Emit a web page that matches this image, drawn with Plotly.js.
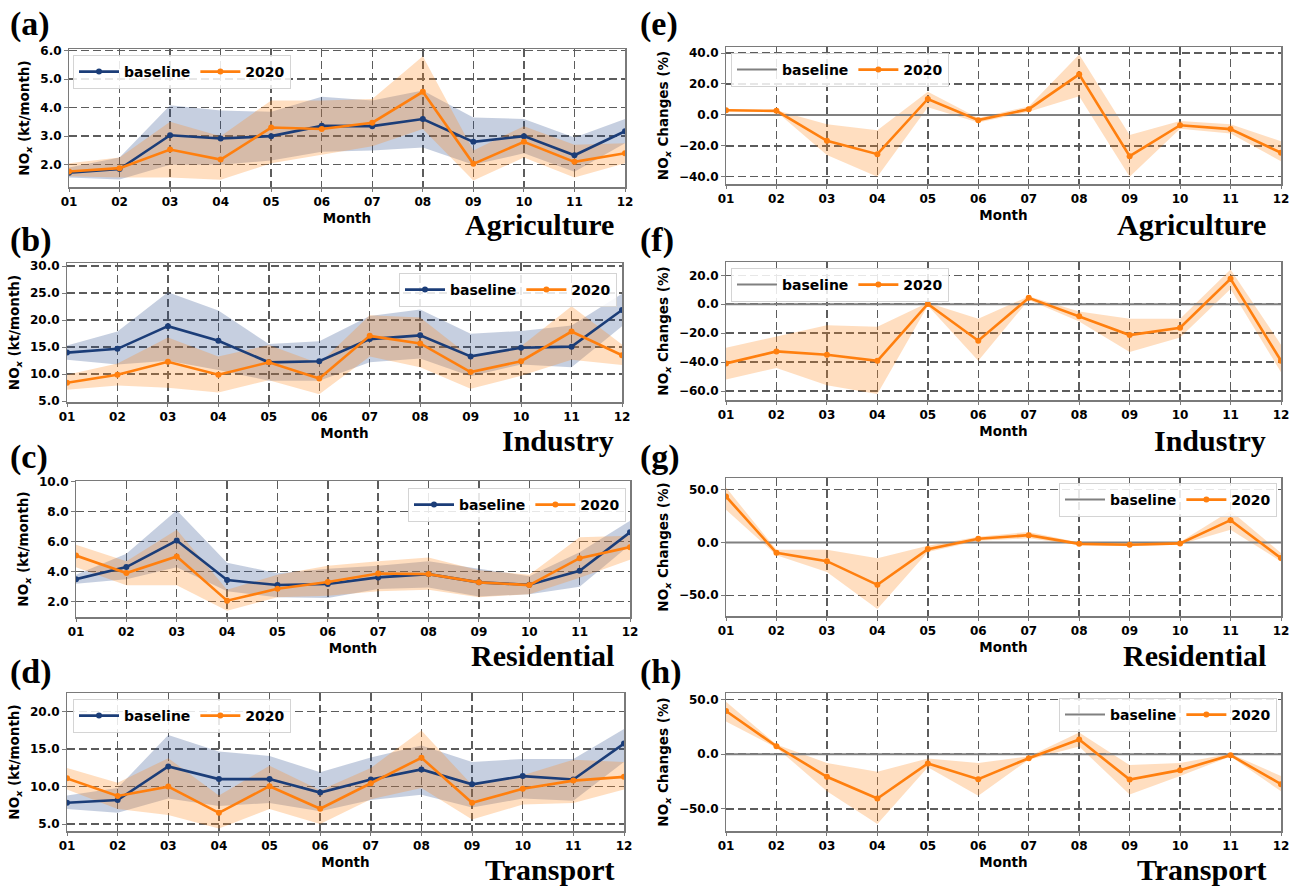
<!DOCTYPE html>
<html><head><meta charset="utf-8">
<script src="https://cdn.plot.ly/plotly-3.0.1.min.js"></script>
<style>html,body{margin:0;padding:0;background:#fff}#chart{width:1301px;height:889px}</style>
</head><body><div id="chart"></div>
<script>
// ---------------- DATA ----------------
const months = ['01','02','03','04','05','06','07','08','09','10','11','12'];
const seriesNames = ['baseline','2020'];
const panelLabels = ['(a)','(b)','(c)','(d)','(e)','(f)','(g)','(h)'];
const sectors = ['Agriculture','Industry','Residential','Transport'];
const yTitleAbs = 'NO<sub><i>x</i></sub> (kt/month)';
const yTitleChg = 'NO<sub><i>x</i></sub> Changes (%)';
const xTitle = 'Month';

// Agriculture (kt/month)
const agriBase   = [1.72,1.85,3.03,2.92,3.00,3.36,3.35,3.60,2.80,3.00,2.33,3.17];
const agriBaseHi = [1.90,2.25,4.08,3.90,3.85,4.38,4.25,4.60,3.65,3.60,2.95,3.60];
const agriBaseLo = [1.55,1.48,2.00,2.00,2.15,2.45,2.50,2.60,2.00,2.40,1.75,2.75];
const agri2020   = [1.76,1.88,2.53,2.18,3.30,3.25,3.47,4.55,2.03,2.80,2.10,2.40];
const agri2020Hi = [2.05,2.25,3.50,3.00,4.25,4.25,4.30,5.80,2.50,3.35,2.70,2.75];
const agri2020Lo = [1.60,1.55,1.55,1.47,2.05,2.35,2.65,3.25,1.45,2.25,1.55,2.05];
// Industry
const indBase   = [14.0,14.7,18.9,16.2,12.2,12.4,16.5,17.2,13.3,14.9,15.1,21.9];
const indBaseHi = [15.3,17.9,25.2,21.8,15.6,16.1,20.8,22.0,17.5,18.0,19.0,24.9];
const indBaseLo = [12.7,11.8,12.5,10.8,8.8,8.8,12.2,12.9,9.6,11.8,11.3,18.9];
const ind2020   = [8.4,9.9,12.3,9.9,12.2,9.2,17.1,15.7,10.4,12.4,17.9,13.5];
const ind2020Hi = [9.9,12.0,16.8,13.3,15.4,12.0,20.9,20.5,13.2,15.2,22.6,15.5];
const ind2020Lo = [7.1,7.9,7.5,6.6,8.9,6.3,13.3,11.3,7.3,9.7,12.7,11.7];
// Residential
const resBase   = [3.50,4.31,6.08,3.44,3.11,3.18,3.62,3.84,3.29,3.13,4.06,6.63];
const resBaseHi = [3.80,5.20,8.10,4.60,3.90,4.20,4.40,4.70,4.20,3.70,5.30,7.40];
const resBaseLo = [3.20,3.50,4.30,2.70,2.30,2.25,2.85,2.95,2.35,2.50,3.00,5.80];
const res2020   = [5.08,3.91,5.02,2.07,2.86,3.31,3.88,3.84,3.29,3.11,4.90,5.64];
const res2020Hi = [5.80,4.70,6.80,2.80,3.80,4.40,4.70,4.95,4.10,3.80,6.30,6.40];
const res2020Lo = [4.30,3.10,3.10,1.40,2.30,2.40,2.70,2.80,2.30,2.50,3.60,4.80];
// Transport
const traBase   = [7.85,8.20,12.70,11.00,11.00,9.20,10.95,12.30,10.30,11.40,10.95,15.75];
const traBaseHi = [8.8,9.8,16.9,14.7,14.1,11.9,13.9,15.5,13.3,13.7,13.7,17.7];
const traBaseLo = [7.0,6.5,8.4,7.4,7.8,6.7,8.2,8.9,7.2,8.4,8.1,13.3];
const tra2020   = [11.10,8.75,10.00,6.50,10.05,7.05,10.45,13.85,7.85,9.70,10.80,11.30];
const tra2020Hi = [12.5,10.5,13.8,8.8,12.8,9.5,12.5,17.5,10.2,11.5,13.6,13.3];
const tra2020Lo = [9.6,7.0,6.2,4.4,7.0,5.0,8.3,9.8,5.6,7.6,7.8,9.6];

// NOx changes (%)
const baselineChg = [0,0,0,0,0,0,0,0,0,0,0,0];
const agriChg   = [3.0,2.6,-16.8,-25.4,10.3,-3.4,3.7,26.2,-26.7,-6.7,-9.2,-24.5];
const agriChgHi = [3.5,3.0,-6,-10,15,-2,5.5,39,-13,-4,-6,-17];
const agriChgLo = [2.5,2.0,-26,-40,5,-5,2,12,-40,-9,-12,-30];
const indChg    = [-40.9,-32.6,-34.9,-39.1,0.2,-25.2,4.4,-8.3,-21.3,-16.2,17.6,-39.1];
const indChgHi  = [-30,-22,-14.5,-15.5,1,-10,5.5,-5,-10,-10,24,-28];
const indChgLo  = [-52,-44,-56,-62,-1,-39,3,-12,-33,-23,10.5,-47];
const resChg    = [43.5,-9.8,-17.7,-40.1,-6.3,3.5,6.9,-1.3,-2.2,-0.9,21.1,-14.8];
const resChgHi  = [52,-7,-7,-15,-3,5.5,10,0,-1,0.5,30,-10];
const resChgLo  = [31,-12,-28,-63,-9,1.5,4,-2.5,-3.5,-2,12,-18];
const traChg    = [39.6,7.3,-20.7,-40.6,-8.5,-22.9,-3.7,13.4,-23.2,-14.6,-0.9,-27.5];
const traChgHi  = [48,9,-8,-16,-4,-8,-2,20,-10,-8,0.5,-20];
const traChgLo  = [30,6,-34,-64,-12,-38,-5,7,-37,-20,-2,-34];

// ---------------- STYLE / LAYOUT ----------------
const W = 1301, H = 889;
const NAVY = '#1b3d78', ORANGE = '#ff7f0e', GRAYLINE = '#808080';
const FILL_NAVY = 'rgba(35,70,135,0.26)', FILL_OR = 'rgba(255,135,30,0.28)';
const TICKFONT = {family:'DejaVu Sans', size:12, color:'#000', weight:'bold'};
const TITLEFONT = {family:'DejaVu Sans', size:13.5, color:'#000', weight:'bold'};
const GRIDC = '#5c5c5c';

const absPanels = [
  {base:agriBase, baseHi:agriBaseHi, baseLo:agriBaseLo, y:agri2020, hi:agri2020Hi, lo:agri2020Lo},
  {base:indBase,  baseHi:indBaseHi,  baseLo:indBaseLo,  y:ind2020,  hi:ind2020Hi,  lo:ind2020Lo},
  {base:resBase,  baseHi:resBaseHi,  baseLo:resBaseLo,  y:res2020,  hi:res2020Hi,  lo:res2020Lo},
  {base:traBase,  baseHi:traBaseHi,  baseLo:traBaseLo,  y:tra2020,  hi:tra2020Hi,  lo:tra2020Lo}
];
const chgPanels = [
  {y:agriChg, hi:agriChgHi, lo:agriChgLo},
  {y:indChg,  hi:indChgHi,  lo:indChgLo},
  {y:resChg,  hi:resChgHi,  lo:resChgLo},
  {y:traChg,  hi:traChgHi,  lo:traChgLo}
];

// pixel boxes [x0,x1,yTop,yBottom]
const boxes = [
  [69,625,49,187],[67,622,263,402],[76,630,481,617],[67,624,693,831],
  [726,1281,47,184],[726,1281,262,400],[726,1281,478,616],[726,1281,693,831]
];
const yr = [
  [1.22,6.05,2,1],[4.85,30.6,5,5],[0.98,10.05,2,2],[4.07,22.5,5,5],
  [-44.7,43.9,0,20],[-66.2,29.2,0,20],[-69.6,61,0,50],[-70.4,56.1,0,50]
];
// legend positions [x,y,anchor]
const legPos = [
  [73,55,'left'],[617,273,'right'],[626,488,'right'],[73,699,'left'],
  [731,53,'left'],[731,268,'left'],[1277,483,'right'],[1277,698,'right']
];

function band(k, hi, lo, color){
  return {x: months.concat(months.slice().reverse()), y: hi.concat(lo.slice().reverse()),
    xaxis:'x'+(k===1?'':k), yaxis:'y'+(k===1?'':k), type:'scatter', mode:'lines', fill:'toself',
    fillcolor:color, line:{width:0, color:color}, hoverinfo:'skip', showlegend:false};
}
function series(k, y, color, name, withMarker, width){
  return {x: months, y: y, xaxis:'x'+(k===1?'':k), yaxis:'y'+(k===1?'':k), type:'scatter',
    mode: withMarker ? 'lines+markers' : 'lines', name: name,
    line:{color:color, width:width}, marker:{size:6, color:color},
    legend: k===1 ? 'legend' : 'legend'+k, showlegend:true};
}

const traces = [];
absPanels.forEach((p,i)=>{
  const k = i+1;
  traces.push(band(k, p.baseHi, p.baseLo, FILL_NAVY));
  traces.push(band(k, p.hi, p.lo, FILL_OR));
  traces.push(series(k, p.base, NAVY, seriesNames[0], true, 2.6));
  traces.push(series(k, p.y, ORANGE, seriesNames[1], true, 2.6));
});
chgPanels.forEach((p,i)=>{
  const k = i+5;
  traces.push(band(k, p.hi, p.lo, FILL_OR));
  traces.push(series(k, baselineChg, GRAYLINE, seriesNames[0], false, 2));
  traces.push(series(k, p.y, ORANGE, seriesNames[1], true, 2.6));
});

const layout = {
  width: W, height: H, margin:{l:0,r:0,t:0,b:0}, paper_bgcolor:'#fff', plot_bgcolor:'#fff',
  showlegend:true, annotations:[]
};
for(let k=1;k<=8;k++){
  const b = boxes[k-1], r = yr[k-1];
  const xs = k===1?'':k;
  layout['xaxis'+xs] = {
    domain:[b[0]/W, b[1]/W], anchor:'y'+xs, type:'category', range:[0,11],
    showline:true, mirror:true, linecolor:'#7a7a7a', linewidth:1.5,
    ticks:'outside', ticklen:3.5, tickcolor:'#7a7a7a',
    showgrid:true, gridcolor:GRIDC, gridwidth:1.5, griddash:'8px,4px',
    tickfont:TICKFONT, title:{text:xTitle, font:TITLEFONT, standoff:5}, fixedrange:true
  };
  layout['yaxis'+xs] = {
    domain:[1-b[3]/H, 1-b[2]/H], anchor:'x'+xs, range:[r[0], r[1]], tick0:r[2], dtick:r[3],
    tickformat:'.1f', showline:true, mirror:true, linecolor:'#7a7a7a', linewidth:1.5,
    ticks:'outside', ticklen:3.5, tickcolor:'#7a7a7a', zeroline:false,
    showgrid:true, gridcolor:GRIDC, gridwidth:1.5, griddash:'8px,4px',
    tickfont:TICKFONT, title:{text: k<=4 ? yTitleAbs : yTitleChg, font:TITLEFONT, standoff:7}, fixedrange:true
  };
  const lp = legPos[k-1];
  layout[k===1?'legend':'legend'+k] = {
    x: lp[0]/W, y: 1-lp[1]/H, xanchor: lp[2], yanchor:'top', orientation:'h',
    bgcolor:'rgba(255,255,255,0.85)', bordercolor:'#d4d4d4', borderwidth:1,
    font:{family:'DejaVu Sans', size:14, color:'#000', weight:'bold'}, itemwidth:40
  };
}
// panel labels
const labelPos = [[8,24],[8,240],[8,457],[8,672],[638,24],[638,240],[638,457],[638,672]];
panelLabels.forEach((t,i)=>{
  layout.annotations.push({text:t, xref:'paper', yref:'paper', x:labelPos[i][0]/W, y:1-labelPos[i][1]/H,
    xanchor:'left', yanchor:'middle', showarrow:false,
    font:{family:'Liberation Serif', size:34, color:'#000', weight:'bold'}});
});
// sector names
const secY = [224,440,655,869];
sectors.forEach((s,i)=>{
  [616,1268].forEach(xp=>{
    layout.annotations.push({text:s, xref:'paper', yref:'paper', x:xp/W, y:1-secY[i]/H,
      xanchor:'right', yanchor:'middle', showarrow:false,
      font:{family:'Liberation Serif', size:30, color:'#000', weight:'bold'}});
  });
});

Plotly.newPlot('chart', traces, layout, {staticPlot:true, displayModeBar:false});
</script>
</body></html>
